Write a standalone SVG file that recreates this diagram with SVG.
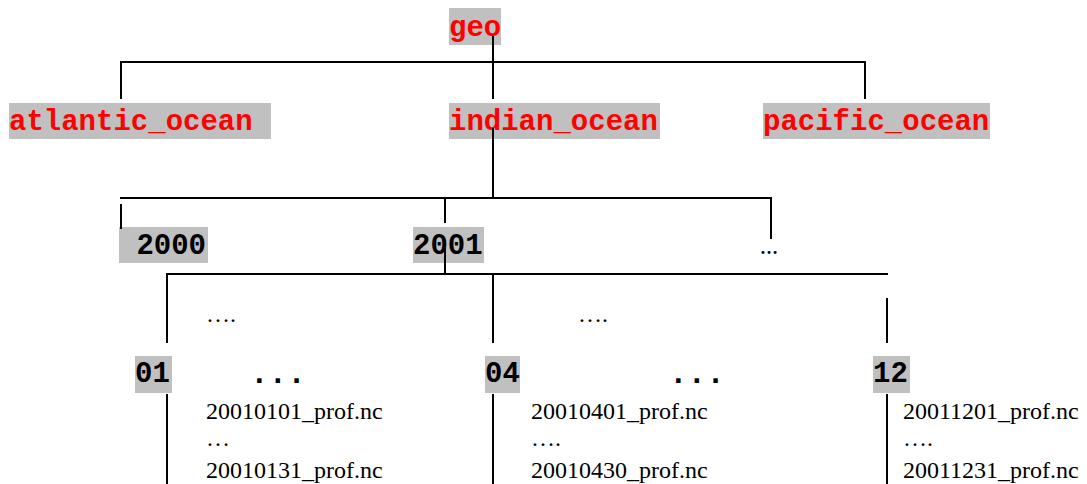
<svg xmlns="http://www.w3.org/2000/svg" width="1087" height="484" viewBox="0 0 1087 484">
<style>
.box{fill:#C0C0C0}
.mono{font-family:"Liberation Mono","Courier New",monospace;font-weight:bold;font-size:29px}
.red{fill:#FF0000}
.blk{fill:#000}
.file{font-family:"Liberation Serif","Times New Roman",serif;font-size:24px;fill:#000}
.dots{font-family:"Liberation Serif","Times New Roman",serif;font-size:24px;fill:#000}
.conn line{stroke:#000;stroke-width:2}
</style>
<rect width="1087" height="484" fill="#fff"/>
<g id="geo"><rect class="box" x="449" y="8" width="52" height="37"/><text class="mono red" x="449" y="36" xml:space="preserve">geo</text></g>
<g id="atlantic_ocean"><rect class="box" x="9" y="103" width="262" height="36"/><text class="mono red" x="9" y="130" xml:space="preserve">atlantic_ocean </text></g>
<g id="indian_ocean"><rect class="box" x="449" y="103" width="211" height="36"/><text class="mono red" x="449" y="130">indian_ocean</text></g>
<g id="pacific_ocean"><rect class="box" x="763" y="103" width="227" height="36"/><text class="mono red" x="763" y="130">pacific_ocean</text></g>
<g id="y2000"><rect class="box" x="119" y="227" width="89" height="36"/><text class="mono blk" x="119" y="254" xml:space="preserve"> 2000</text></g>
<g id="y2001"><rect class="box" x="413" y="227" width="71" height="36"/><text class="mono blk" x="413" y="254">2001</text></g>
<g id="ymore"><text x="760" y="254" style="font-family:'Liberation Serif',serif;font-weight:bold;font-size:18px">…</text></g>
<g class="conn" id="connectors">
<line x1="121" y1="62" x2="865" y2="62"/>
<line x1="493" y1="36" x2="493" y2="99"/>
<line x1="121" y1="61" x2="121" y2="99"/>
<line x1="865" y1="61" x2="865" y2="99"/>
<line x1="493" y1="128" x2="493" y2="198"/>
<line x1="120" y1="198" x2="771" y2="198"/>
<line x1="121" y1="204" x2="121" y2="229"/>
<line x1="445" y1="198" x2="445" y2="223"/>
<line x1="771" y1="197" x2="771" y2="239"/>
<line x1="445" y1="248" x2="445" y2="274"/>
<line x1="167" y1="274" x2="888" y2="274"/>
<line x1="167" y1="273" x2="167" y2="343"/>
<line x1="493" y1="274" x2="493" y2="343"/>
<line x1="887" y1="298" x2="887" y2="343"/>
<line x1="167" y1="394" x2="167" y2="484"/>
<line x1="493" y1="394" x2="493" y2="484"/>
<line x1="887" y1="394" x2="887" y2="484"/>
</g>
<g id="dots-top"><text class="dots" x="206" y="322">….</text><text class="dots" x="578" y="322">….</text></g>
<g id="m01"><rect class="box" x="135" y="356" width="37" height="37"/><text class="mono blk" x="135" y="382">01</text>
<text class="mono blk" x="250" y="383" style="font-size:31px">...</text>
<text class="file" x="206" y="419">20010101_prof.nc</text>
<text class="file" x="206" y="446">…</text>
<text class="file" x="206" y="478">20010131_prof.nc</text></g>
<g id="m04"><rect class="box" x="485" y="356" width="35" height="37"/><text class="mono blk" x="485" y="382">04</text>
<text class="mono blk" x="669" y="383" style="font-size:31px">...</text>
<text class="file" x="531" y="419">20010401_prof.nc</text>
<text class="file" x="531" y="446">….</text>
<text class="file" x="531" y="478">20010430_prof.nc</text></g>
<g id="m12"><rect class="box" x="873" y="356" width="37" height="37"/><text class="mono blk" x="873" y="382">12</text>
<text class="file" x="903" y="419">20011201_prof.nc</text>
<text class="file" x="903" y="446">….</text>
<text class="file" x="903" y="478">20011231_prof.nc</text></g>
</svg>
